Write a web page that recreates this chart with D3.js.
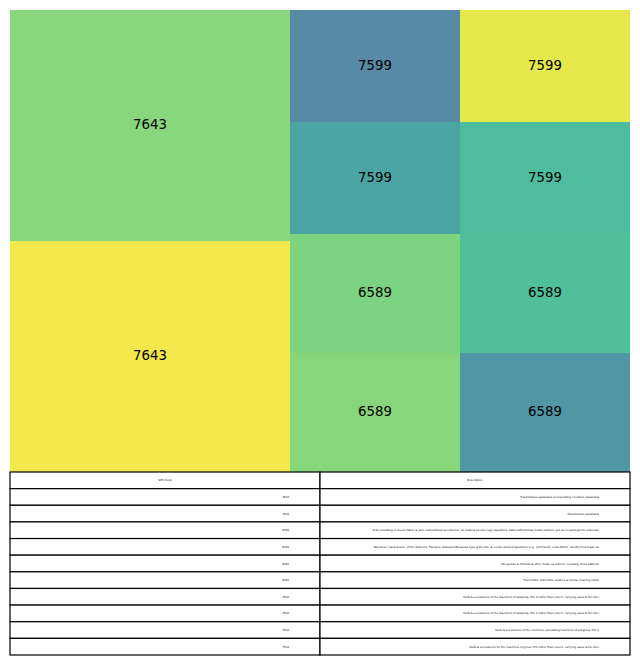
<!DOCTYPE html>
<html>
<head>
<meta charset="utf-8">
<script src="https://cdn.jsdelivr.net/npm/d3@7"></script>
<style>
  html, body { margin: 0; padding: 0; background: #fff; }
  svg { display: block; }
</style>
</head>
<body>
<svg id="chart" width="640" height="665"></svg>
<script>
// ---- data ----
const codes = ["7643", "7643", "6589", "6589", "6589", "6589", "7599", "7599", "7599", "7599"];
const values = [6468, 6468, 2023, 2023, 2023, 2023, 1904, 1904, 1904, 1904];
const descriptions = [
  "Transmission apparatus incorporating reception apparatus",
  "Transmission apparatus",
  "Sets consisting of woven fabric & yarn, with/without accessories, for making up into rugs, tapestries, tablecloths/similar textile articles, put up in packings for retail sale",
  "Tapestries, hand-woven, of the Gobelins, Flanders, Aubusson/Beauvais type & the like, & needle-worked tapestries (e.g., petit point, cross stitch), whether/not made up",
  "Life-jackets & lifebelts & other made up articles, including dress patterns",
  "Floorcloths, dishcloths, dusters & similar cleaning cloths",
  "Parts & accessories of the machines of subgroup 751.9 (other than covers, carrying cases & the like)",
  "Parts & accessories of the machines of subgroup 751.1 (other than covers, carrying cases & the like)",
  "Parts & accessories of the electronic calculating machines of subgroup 751.2",
  "Parts & accessories for the machines of group 752 (other than covers, carrying cases & the like)"
];
const colors = ["#f3e84b", "#88d77c", "#88d67b", "#5096a5", "#7dd480", "#50c09a", "#4ba4a4", "#578ba5", "#4dbd9d", "#e4e84a"];
const headers = ["SITC Code", "Description"];

// ---- layout ----
const svg = d3.select("#chart");
const L = 10, R = 630, T = 10, B = 472;
const W = R - L, H = B - T;

const x = d3.scaleLinear().domain([0, W]).range([L, R]);
const y = d3.scaleLinear().domain([0, H]).range([B, T]); // origin at bottom

const root = d3.hierarchy({ children: codes.map((c, i) => ({ code: c, value: values[i], idx: i })) })
  .sum(d => d.value || 0);
d3.treemap().size([W, H]).tile(d3.treemapSquarify.ratio(1)).round(false)(root);

const cells = svg.append("g").selectAll("g").data(root.leaves()).join("g");
cells.append("rect")
  .attr("x", d => x(d.x0))
  .attr("y", d => y(d.y1))
  .attr("width", d => x(d.x1) - x(d.x0))
  .attr("height", d => y(d.y0) - y(d.y1))
  .attr("fill", d => colors[d.data.idx]);
cells.append("text")
  .attr("x", d => (x(d.x0) + x(d.x1)) / 2)
  .attr("y", d => (y(d.y0) + y(d.y1)) / 2 - 0.7)
  .attr("text-anchor", "middle")
  .attr("dominant-baseline", "central")
  .attr("font-family", "DejaVu Sans")
  .attr("font-size", "13.3px")
  .attr("fill", "#000")
  .text(d => d.data.code);

// ---- table ----
const tTop = 472, tBottom = 655;
const rows = [headers].concat(codes.map((c, i) => [c, descriptions[i]]));
const ty = d3.scaleBand().domain(d3.range(rows.length)).range([tTop, tBottom]).padding(0);
const tx = d3.scaleBand().domain([0, 1]).range([L, R]).padding(0);
const pad = 0.1 * tx.bandwidth();

const tg = svg.append("g");
rows.forEach((row, ri) => {
  row.forEach((txt, ci) => {
    tg.append("rect")
      .attr("x", tx(ci)).attr("y", ty(ri))
      .attr("width", tx.bandwidth()).attr("height", ty.bandwidth())
      .attr("fill", "#fff").attr("stroke", "#000").attr("stroke-width", 1.2);
    const header = ri === 0;
    tg.append("text")
      .attr("x", header ? tx(ci) + tx.bandwidth() / 2 : tx(ci) + tx.bandwidth() - pad)
      .attr("y", ty(ri) + ty.bandwidth() / 2)
      .attr("text-anchor", header ? "middle" : "end")
      .attr("dominant-baseline", "central")
      .attr("font-family", "DejaVu Sans")
      .attr("font-size", "2.7px")
      .attr("fill", "#000")
      .text(txt);
  });
});
</script>
</body>
</html>
